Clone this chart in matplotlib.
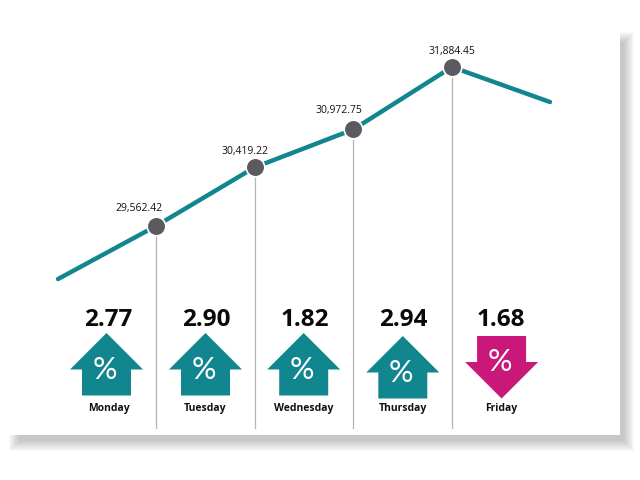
import matplotlib
matplotlib.use("Agg")
import matplotlib.pyplot as plt
from matplotlib.patches import Polygon, Rectangle

days = ["Monday", "Tuesday", "Wednesday", "Thursday", "Friday"]
close_values = [29562.42, 30419.22, 30972.75, 31884.45]
close_labels = ["29,562.42", "30,419.22", "30,972.75", "31,884.45"]
line_x = [-0.993, 0, 1, 2, 3, 3.993]
line_y = [28788, 29562.42, 30419.22, 30972.75, 31884.45, 31373]
pct_changes = ["2.77", "2.90", "1.82", "2.94", "1.68"]
directions = ["up", "up", "up", "up", "down"]

TEAL = "#12868f"
PINK = "#c9177a"
GREY = "#5a5a60"

plt.rcParams["font.family"] = ["Open Sans", "DejaVu Sans"]
fig = plt.figure(figsize=(6.4, 4.8), dpi=100, facecolor="white")

# pixel-space layer: card shadow, arrows, captions
bg = fig.add_axes([0, 0, 1, 1])
bg.set_xlim(0, 640)
bg.set_ylim(480, 0)
bg.axis("off")

steps = 20
for i in range(steps):
    g = i / (steps - 1)
    grow = 11 * (1 - g)
    bg.add_patch(Rectangle((20 - grow, 43 - grow), 603 + 2 * grow, 397 + 2 * grow,
                           fc="#8c8c8c", ec="none", alpha=0.028, zorder=1))
bg.add_patch(Rectangle((-5, -5), 625, 440, fc="white", ec="none", zorder=2))

# main data layer
ax = fig.add_axes([0, 0, 1, 1], facecolor="none")
ax.set_xlim(-156 / 98.67, (640 - 156) / 98.67)
ax.set_ylim(25853, 32863)
ax.axis("off")

ax.plot(line_x, line_y, color=TEAL, lw=3.2, solid_capstyle="round", zorder=3)
for i, v in enumerate(close_values):
    ax.plot([i, i], [v, 26612], color="#b4b4b4", lw=0.9, zorder=2)
ax.plot(range(4), close_values, ls="none", marker="o", ms=13.4, mfc=GREY,
        mec="white", mew=1.2, zorder=4)

label_pos = [(138.5, 208.5), (244.5, 151.5), (339, 110.5), (451.7, 51.5)]
for (x, y), s in zip(label_pos, close_labels):
    ax.text(x, y, s, transform=bg.transData, ha="center", va="center", fontsize=7.5,
            color="#111111", zorder=5)

arrow_x = [106.5, 205.5, 303.7, 402.8, 501.6]
arrow_top = [333, 333, 333, 336, 336]
pct_x = [108, 206.5, 305, 403, 501]
name_x = [108.5, 205, 304, 402.5, 501.5]

for i, day in enumerate(days):
    cx, t = arrow_x[i], arrow_top[i]
    if directions[i] == "up":
        pts = [(cx, t), (cx + 36.5, t + 36.5), (cx + 24.5, t + 36.5), (cx + 24.5, t + 62.5),
               (cx - 24.5, t + 62.5), (cx - 24.5, t + 36.5), (cx - 36.5, t + 36.5)]
        col, py = TEAL, t + 37
    else:
        pts = [(cx - 24.5, t), (cx + 24.5, t), (cx + 24.5, t + 26), (cx + 36.5, t + 26),
               (cx, t + 62.5), (cx - 36.5, t + 26), (cx - 24.5, t + 26)]
        col, py = PINK, t + 26
    ax.add_patch(Polygon(pts, closed=True, fc=col, ec="none", zorder=3,
                         transform=bg.transData))
    ax.text(cx - 1.5, py, "%", transform=bg.transData, ha="center", va="center",
            color="white", fontsize=22, family=["Lato", "DejaVu Sans"], zorder=6)
    ax.text(pct_x[i], 319.5, pct_changes[i], transform=bg.transData, ha="center", va="center",
            color="#0a0a0a", fontsize=17.5, fontweight="bold", zorder=6)
    ax.text(name_x[i], 408.5, day, transform=bg.transData, ha="center", va="center",
            color="#111111", fontsize=7.5, fontweight="bold", zorder=6)

fig.savefig("out.png", dpi=100, facecolor="white")
